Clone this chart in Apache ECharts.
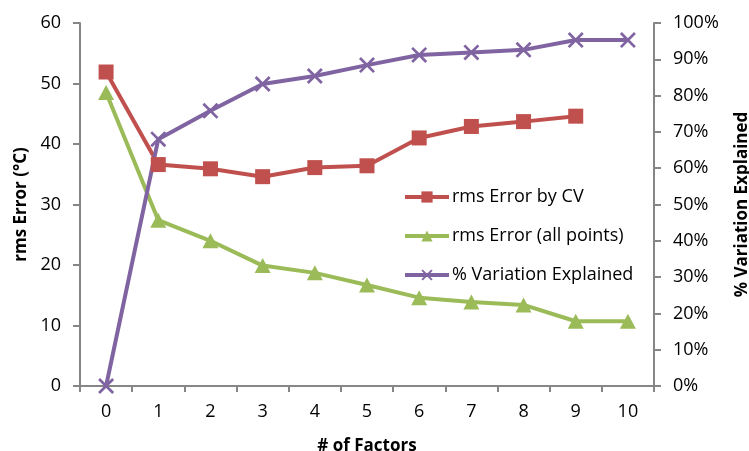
<!DOCTYPE html>
<html>
<head>
<meta charset="utf-8">
<script src="https://cdn.jsdelivr.net/npm/echarts@6/dist/echarts.min.js"></script>
<style>
html,body{margin:0;padding:0;background:#fff;}
#chart{width:749px;height:451px;}
</style>
</head>
<body>
<div id="chart"></div>
<script>
const categories = ['0','1','2','3','4','5','6','7','8','9','10'];
const rmsCV = [51.9, 36.6, 35.9, 34.6, 36.1, 36.4, 41.0, 42.9, 43.7, 44.6];
const rmsAll = [48.5, 27.4, 24.0, 19.9, 18.7, 16.7, 14.6, 13.9, 13.4, 10.7, 10.7];
const pctVar = [0, 0.68, 0.758, 0.832, 0.854, 0.884, 0.912, 0.919, 0.926, 0.953, 0.953];
const leftTicks = {min: 0, max: 60, interval: 10};
const rightTicks = {min: 0, max: 1, interval: 0.1};

const FONT = '"Open Sans", sans-serif';
const FS = 18;
const AX = '#868686';
const crossPath = 'path://M0,1.2L1.2,0L10,8.8L8.8,10Z M8.8,0L10,1.2L1.2,10L0,8.8Z';

const chart = echarts.init(document.getElementById('chart'), null, {renderer: 'canvas'});
const axisCommon = {
  axisLine: {show: true, lineStyle: {color: AX, width: 2}},
  axisTick: {show: true, length: 7, lineStyle: {color: AX, width: 2}},
  splitLine: {show: false},
  nameTextStyle: {fontFamily: FONT, fontSize: 17, fontWeight: 'bold', color: '#000'}
};
chart.setOption({
  animation: false,
  backgroundColor: '#fff',
  textStyle: {fontFamily: FONT},
  grid: {left: 80, right: 95, top: 23, bottom: 65, containLabel: false, outerBoundsMode: 'none'},
  legend: {
    orient: 'vertical',
    left: 398, top: 183,
    itemWidth: 44, itemHeight: 14, itemGap: 21,
    lineStyle: {width: 4},
    textStyle: {fontFamily: FONT, fontSize: FS, color: '#000', padding: [0,0,0,-2]},
    data: ['rms Error by CV', 'rms Error (all points)', '% Variation Explained']
  },
  xAxis: Object.assign({}, axisCommon, {
    type: 'category',
    data: categories,
    boundaryGap: true,
    name: '# of Factors',
    nameLocation: 'middle',
    nameGap: 52,
    axisTick: {show: true, length: 6, alignWithLabel: false, lineStyle: {color: AX, width: 2}},
    axisLabel: {fontFamily: FONT, fontSize: FS, color: '#000', margin: 17}
  }),
  yAxis: [
    Object.assign({}, axisCommon, {
      type: 'value', position: 'left',
      min: leftTicks.min, max: leftTicks.max, interval: leftTicks.interval,
      name: 'rms Error (°C)', nameLocation: 'middle', nameRotate: 90, nameGap: 50,
      axisLabel: {fontFamily: FONT, fontSize: FS, color: '#000', margin: 19}
    }),
    Object.assign({}, axisCommon, {
      type: 'value', position: 'right',
      min: rightTicks.min, max: rightTicks.max, interval: rightTicks.interval,
      name: '% Variation Explained', nameLocation: 'middle', nameRotate: 90, nameGap: 80,
      axisLabel: {fontFamily: FONT, fontSize: FS, color: '#000', margin: 19,
        formatter: v => Math.round(v * 100) + '%'}
    })
  ],
  series: [
    {
      name: 'rms Error by CV', type: 'line', yAxisIndex: 0, data: rmsCV,
      symbol: 'rect', symbolSize: 15, showAllSymbol: true,
      lineStyle: {color: '#C0504D', width: 4},
      itemStyle: {color: '#C0504D'}
    },
    {
      name: 'rms Error (all points)', type: 'line', yAxisIndex: 0, data: rmsAll,
      symbol: 'triangle', symbolSize: [16, 15], showAllSymbol: true,
      lineStyle: {color: '#9BBB59', width: 4},
      itemStyle: {color: '#9BBB59'}
    },
    {
      name: '% Variation Explained', type: 'line', yAxisIndex: 1, data: pctVar,
      symbol: crossPath, symbolSize: 16, showAllSymbol: true,
      lineStyle: {color: '#8064A2', width: 4},
      itemStyle: {color: '#8064A2'}
    }
  ]
});
</script>
</body>
</html>
